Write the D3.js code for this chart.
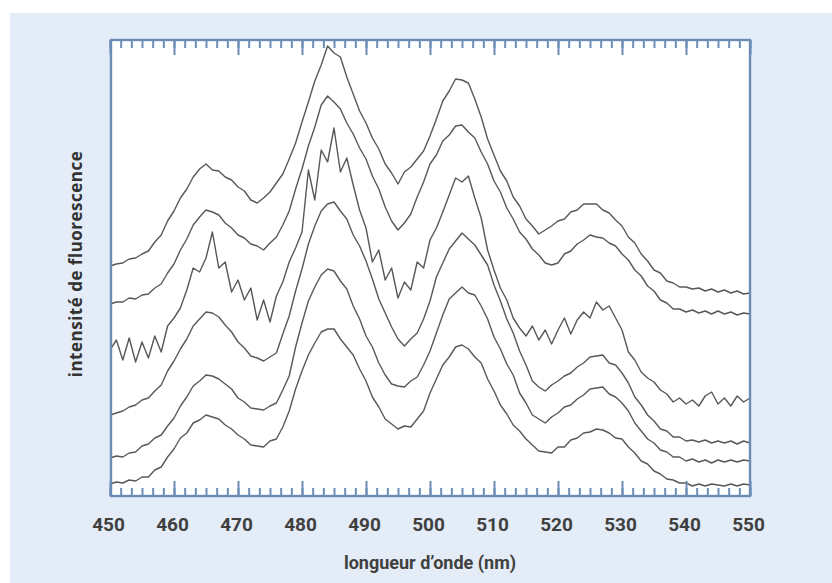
<!DOCTYPE html>
<html>
<head>
<meta charset="utf-8">
<script src="https://cdn.jsdelivr.net/npm/d3@7"></script>
<style>
  body { margin: 0; background: #fff; }
  svg { display: block; }
  .tick-label text { font-family: Roboto, sans-serif; font-weight: 700; font-size: 19px; fill: #404040; }
</style>
</head>
<body>
<div id="chart"></div>
<script>
const width = 832;
const height = 583;

// wavelengths, 450 to 550 nm in 1 nm steps
const wavelengths = d3.range(450, 551, 1);
const majorTicks = [450, 460, 470, 480, 490, 500, 510, 520, 530, 540, 550];

// fluorescence intensity (a.u.), six spectra, top to bottom
const spectrum1 = [230,232,233,237,238,242,245,254,261,275,285,298,307,319,327,332,326,325,319,316,309,305,296,293,298,304,313,322,337,353,374,394,415,431,450,443,439,419,402,385,373,358,347,332,323,312,324,329,337,345,360,377,395,405,417,416,413,397,379,357,341,325,315,299,290,277,270,262,266,270,275,277,284,286,292,292,292,286,283,276,270,259,253,242,235,226,223,215,213,209,209,207,208,205,207,204,206,203,205,202,203];
const spectrum2 = [192,194,194,198,197,201,202,208,212,223,232,246,257,271,279,286,284,281,273,268,261,258,252,250,246,253,259,271,285,307,327,350,369,391,400,394,387,373,362,348,337,320,307,289,275,266,273,282,299,314,332,341,355,361,370,371,364,358,344,332,315,304,288,277,264,257,247,241,233,231,233,242,245,252,256,261,259,258,253,250,242,236,226,220,210,205,196,193,187,187,184,186,183,185,182,185,182,184,181,183,182];
const spectrum3 = [146,156,136,158,134,154,138,160,144,170,178,188,206,228,224,238,264,228,234,204,216,196,208,176,196,174,200,214,234,248,264,326,296,346,334,368,324,338,311,286,268,234,246,216,228,198,214,206,234,228,256,268,284,301,318,314,320,298,278,246,226,208,196,178,168,160,170,156,166,152,166,178,162,176,184,178,194,186,190,178,166,144,136,124,118,114,106,102,94,98,92,96,90,100,104,92,98,90,100,94,98];
const spectrum4 = [81,83,85,89,91,96,98,105,111,125,135,147,157,170,177,184,183,179,171,164,154,148,140,138,135,139,143,162,180,205,227,252,270,285,292,294,285,277,261,250,235,217,197,183,169,157,150,157,163,177,195,219,233,247,255,263,257,251,241,231,211,195,177,163,145,131,115,109,105,111,115,120,123,129,133,139,140,141,133,131,123,113,99,91,81,75,67,65,59,59,55,56,54,56,53,55,53,55,52,55,53];
const spectrum5 = [38,40,39,43,44,50,52,58,61,70,78,90,99,110,115,121,120,117,112,107,98,94,88,87,86,90,93,106,120,149,173,195,209,221,227,225,215,207,190,177,160,149,133,121,112,110,109,115,119,131,145,163,181,197,203,209,203,201,190,177,159,147,132,121,103,93,81,77,73,79,83,89,91,97,101,107,108,109,102,99,93,85,73,65,57,53,46,44,39,39,35,37,34,36,33,36,34,36,34,36,35];
const spectrum6 = [12,14,13,16,15,19,19,26,29,39,47,58,63,73,76,81,79,77,71,67,61,57,51,50,49,55,57,69,85,107,125,141,153,164,167,167,157,149,141,127,115,99,89,77,72,67,70,69,77,85,103,117,131,139,149,151,147,139,133,117,105,91,82,71,65,57,51,45,44,43,49,49,56,58,63,64,67,66,63,58,57,49,43,35,32,25,22,17,16,13,13,10,12,10,12,11,10,12,10,12,11];

const spectra = [spectrum1, spectrum2, spectrum3, spectrum4, spectrum5, spectrum6];

const plot = { left: 111, right: 750, top: 40, bottom: 496 };

const x = d3.scaleLinear().domain([450, 550]).range([110, 750]);
const y = d3.scaleLinear().domain([0, 456]).range([plot.bottom, plot.top]);

const svg = d3.select("#chart")
  .append("svg")
  .attr("width", width)
  .attr("height", height);

// light blue panel
svg.append("rect")
  .attr("x", 10).attr("y", 13)
  .attr("width", width - 10).attr("height", height - 13)
  .attr("fill", "#e3ecf7");

svg.append("rect")
  .attr("x", plot.left).attr("y", plot.top)
  .attr("width", plot.right - plot.left).attr("height", plot.bottom - plot.top)
  .attr("fill", "#fff");

const defs = svg.append("defs");
defs.append("clipPath").attr("id", "clip")
  .append("rect")
  .attr("x", plot.left).attr("y", plot.top)
  .attr("width", plot.right - plot.left).attr("height", plot.bottom - plot.top);
defs.append("filter").attr("id", "soft")
  .append("feGaussianBlur").attr("stdDeviation", 0.5);

const line = d3.line()
  .x((d, i) => x(wavelengths[i]))
  .y(d => y(d));

svg.append("g")
  .attr("clip-path", "url(#clip)")
  .selectAll("path")
  .data(spectra)
  .enter()
  .append("path")
  .attr("d", line)
  .attr("fill", "none")
  .attr("stroke", "#585858")
  .attr("stroke-width", 1.4)
  .attr("stroke-linejoin", "round")
  .attr("filter", "url(#soft)");

// ticks, drawn inward on top and bottom
const minorTicks = d3.range(0, 61).map(i => 450 + i * 10 / 6);
const frameColor = "#6b8cb4";

function tickAxis(axisFn, ty, values, size) {
  const g = svg.append("g")
    .attr("transform", "translate(0," + ty + ")")
    .call(axisFn(x).tickValues(values).tickSize(size).tickFormat(""));
  g.select(".domain").remove();
  g.selectAll("line").attr("stroke", frameColor).attr("stroke-width", 2);
}
tickAxis(d3.axisTop, plot.bottom, minorTicks, 8);
tickAxis(d3.axisTop, plot.bottom, majorTicks, 15);
tickAxis(d3.axisBottom, plot.top, minorTicks, 8);
tickAxis(d3.axisBottom, plot.top, majorTicks, 15);

svg.append("rect")
  .attr("x", plot.left).attr("y", plot.top)
  .attr("width", plot.right - plot.left).attr("height", plot.bottom - plot.top)
  .attr("fill", "none")
  .attr("stroke", frameColor)
  .attr("stroke-width", 2.4);

// tick labels
const labels = svg.append("g")
  .attr("class", "tick-label")
  .attr("transform", "translate(-2," + plot.bottom + ")")
  .call(d3.axisBottom(x).tickValues(majorTicks).tickSize(0).tickPadding(22).tickFormat(d3.format("d")));
labels.select(".domain").remove();

// axis titles
svg.append("text")
  .attr("x", 430).attr("y", 569)
  .attr("text-anchor", "middle")
  .style("font-family", "Roboto, sans-serif")
  .style("font-weight", 700)
  .style("font-size", "18px")
  .style("fill", "#404040")
  .text("longueur d\u2019onde (nm)");

svg.append("text")
  .attr("transform", "translate(82,264) rotate(-90)")
  .attr("text-anchor", "middle")
  .style("font-family", "'Open Sans', sans-serif")
  .style("font-weight", 700)
  .style("font-size", "17px")
  .style("letter-spacing", "0.5px")
  .style("fill", "#333")
  .text("intensité de fluorescence");
</script>
</body>
</html>
